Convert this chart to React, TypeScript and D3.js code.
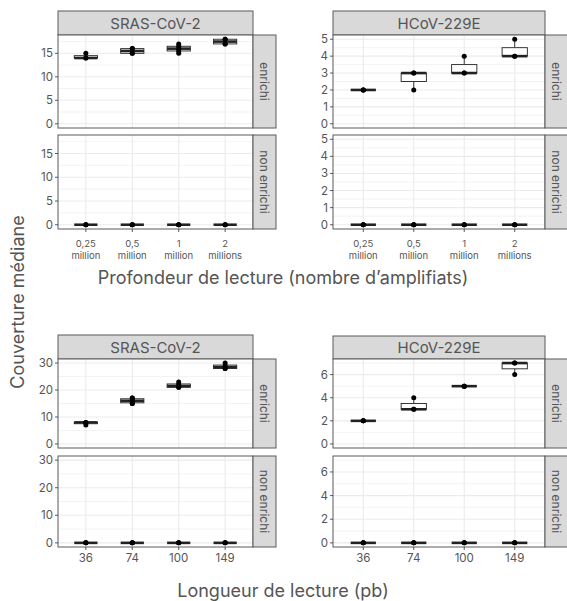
import React from 'react';
import * as d3 from 'd3';

// categories
const depthLabels = ['0,25 million', '0,5 million', '1 million', '2 millions'];
const lengthLabels = ['36', '74', '100', '149'];
const conditions = ['enrichi', 'non enrichi'];
const viruses = ['SRAS-CoV-2', 'HCoV-229E'];

// median coverage per replicate, one array per category
const sarsDepthEnrichi = [[14, 14, 15], [15, 15, 16, 16], [15, 15.5, 16, 16.5, 17], [17, 17, 18, 18]];
const sarsDepthNonEnrichi = [[0, 0, 0], [0, 0, 0], [0, 0, 0], [0, 0, 0]];
const hcovDepthEnrichi = [[2, 2, 2], [2, 3, 3], [3, 3, 4], [4, 4, 5]];
const hcovDepthNonEnrichi = [[0, 0, 0], [0, 0, 0], [0, 0, 0], [0, 0, 0]];

const sarsLengthEnrichi = [[7, 8, 8], [15, 15, 16, 16, 17, 17], [21, 21, 22, 23], [28, 28, 29, 30]];
const sarsLengthNonEnrichi = [[0, 0, 0], [0, 0, 0], [0, 0, 0], [0, 0, 0]];
const hcovLengthEnrichi = [[2, 2, 2], [3, 3, 4], [5, 5, 5], [6, 7, 7]];
const hcovLengthNonEnrichi = [[0, 0, 0], [0, 0, 0], [0, 0, 0], [0, 0, 0]];

// y tick labels
const sarsDepthTicks = [0, 5, 10, 15];
const hcovDepthTicks = [0, 1, 2, 3, 4, 5];
const sarsLengthTicks = [0, 10, 20, 30];
const hcovLengthTicks = [0, 2, 4, 6];

const FONT = 'Inter, "DejaVu Sans", sans-serif';
const BORDER = '#5a5a5a';
const STRIP_FILL = '#d9d9d9';
const GRID = '#ebebeb';
const TEXT = '#555';

function boxStats(vals: number[]) {
  const v = [...vals].sort(d3.ascending);
  const q1 = d3.quantile(v, 0.25) as number;
  const med = d3.quantile(v, 0.5) as number;
  const q3 = d3.quantile(v, 0.75) as number;
  const iqr = q3 - q1;
  const lo = d3.min(v.filter(d => d >= q1 - 1.5 * iqr)) as number;
  const hi = d3.max(v.filter(d => d <= q3 + 1.5 * iqr)) as number;
  return { q1, med, q3, lo, hi };
}

type PlotProps = {
  left: number;
  right: number;
  stripTop: number;
  panels: [number, number][];
  title: string;
  cats: string[];
  rows: number[][][];
  ticks: number[];
  labelY: number;
};

const FacetPlot = ({ left, right, stripTop, panels, title, cats, rows, ticks, labelY }: PlotProps) => {
  const stripW = 23;
  const all = rows.flat(2);
  const [mn, mx] = d3.extent(all) as [number, number];
  const pad = (mx - mn) * 0.05;
  const domain = [mn - pad, mx + pad];

  const x = d3.scalePoint<string>().domain(cats).range([left, right]).padding(0.6);
  const step = x.step();
  const boxW = step * 0.5;

  const tstep = ticks[1] - ticks[0];
  const minor = [ticks[0] - tstep / 2, ...ticks.map(t => t + tstep / 2)].filter(
    t => t >= domain[0] && t <= domain[1]
  );

  const bottom = panels[panels.length - 1][1];

  return (
    <g>
      {/* title strip */}
      <rect x={left} y={stripTop} width={right - left} height={panels[0][0] - stripTop}
        fill={STRIP_FILL} stroke={BORDER} strokeWidth={1} />
      <text x={(left + right) / 2} y={(stripTop + panels[0][0]) / 2} textAnchor="middle"
        dominantBaseline="central" fontSize={15} fill={TEXT} fontFamily={FONT}>{title}</text>

      {panels.map(([y0, y1], i) => {
        const y = d3.scaleLinear().domain(domain).range([y1, y0]);
        const data = rows[i];
        return (
          <g key={i}>
            <rect x={left} y={y0} width={right - left} height={y1 - y0} fill="#fff" />
            {minor.map(t => (
              <line key={'m' + t} x1={left} x2={right} y1={y(t)} y2={y(t)} stroke={GRID} strokeWidth={0.6} />
            ))}
            {ticks.map(t => (
              <line key={'t' + t} x1={left} x2={right} y1={y(t)} y2={y(t)} stroke={GRID} strokeWidth={1.1} />
            ))}
            {cats.map(c => (
              <line key={'v' + c} x1={x(c)} x2={x(c)} y1={y0} y2={y1} stroke={GRID} strokeWidth={1.1} />
            ))}
            {data.map((vals, j) => {
              const cx = x(cats[j]) as number;
              const s = boxStats(vals);
              return (
                <g key={j}>
                  <line x1={cx} x2={cx} y1={y(s.hi)} y2={y(s.q3)} stroke="#222" strokeWidth={0.9} />
                  <line x1={cx} x2={cx} y1={y(s.q1)} y2={y(s.lo)} stroke="#222" strokeWidth={0.9} />
                  <rect x={cx - boxW / 2} y={y(s.q3)} width={boxW} height={Math.max(0, y(s.q1) - y(s.q3))}
                    fill="#fff" stroke="#222" strokeWidth={0.9} />
                  <line x1={cx - boxW / 2} x2={cx + boxW / 2} y1={y(s.med)} y2={y(s.med)}
                    stroke="#222" strokeWidth={2.6} />
                  {vals.map((v, k) => (
                    <circle key={k} cx={cx} cy={y(v)} r={2.5} fill="#000" />
                  ))}
                </g>
              );
            })}
            <rect x={left} y={y0} width={right - left} height={y1 - y0} fill="none" stroke={BORDER} strokeWidth={1} />
            {/* right strip */}
            <rect x={right} y={y0} width={stripW} height={y1 - y0} fill={STRIP_FILL} stroke={BORDER} strokeWidth={1} />
            <text transform={`translate(${right + stripW / 2},${(y0 + y1) / 2}) rotate(90)`} textAnchor="middle"
              dominantBaseline="central" fontSize={12} fill={TEXT} fontFamily={FONT}>{conditions[i]}</text>
            {/* y axis */}
            {ticks.map(t => (
              <g key={'a' + t}>
                <line x1={left - 3} x2={left} y1={y(t)} y2={y(t)} stroke="#333" strokeWidth={0.8} />
                <text x={left - 5} y={y(t)} textAnchor="end" dominantBaseline="central" fontSize={11.5}
                  fill={TEXT} fontFamily={FONT}>{t}</text>
              </g>
            ))}
          </g>
        );
      })}

      {/* x axis */}
      {cats.map(c => {
        const parts = c.split(' ');
        const cx = x(c) as number;
        return (
          <g key={'x' + c}>
            <line x1={cx} x2={cx} y1={bottom} y2={bottom + 3} stroke="#333" strokeWidth={0.8} />
            {parts.length > 1 ? (
              parts.map((p, k) => (
                <text key={k} x={cx} y={labelY + k * 12.5} textAnchor="middle" dominantBaseline="central"
                  fontSize={9.5} fill={TEXT} fontFamily={FONT}>{p}</text>
              ))
            ) : (
              <text x={cx} y={labelY} textAnchor="middle" dominantBaseline="central" fontSize={11.5}
                fill={TEXT} fontFamily={FONT}>{c}</text>
            )}
          </g>
        );
      })}
    </g>
  );
};

const App = () => {
  const topPanels: [number, number][] = [[35, 128], [135, 229]];
  const botPanels: [number, number][] = [[359, 448], [456, 547]];
  return (
    <svg width={567} height={601} style={{ position: 'absolute', left: 0, top: 0, background: '#fff' }}>
      <rect width={567} height={601} fill="#fff" />
      <FacetPlot left={58} right={253} stripTop={11} panels={topPanels} title={viruses[0]} cats={depthLabels}
        rows={[sarsDepthEnrichi, sarsDepthNonEnrichi]} ticks={sarsDepthTicks} labelY={243} />
      <FacetPlot left={333} right={545} stripTop={11} panels={topPanels} title={viruses[1]} cats={depthLabels}
        rows={[hcovDepthEnrichi, hcovDepthNonEnrichi]} ticks={hcovDepthTicks} labelY={243} />
      <FacetPlot left={58} right={253} stripTop={335} panels={botPanels} title={viruses[0]} cats={lengthLabels}
        rows={[sarsLengthEnrichi, sarsLengthNonEnrichi]} ticks={sarsLengthTicks} labelY={558} />
      <FacetPlot left={333} right={545} stripTop={336} panels={botPanels} title={viruses[1]} cats={lengthLabels}
        rows={[hcovLengthEnrichi, hcovLengthNonEnrichi]} ticks={hcovLengthTicks} labelY={558} />

      <text x={283} y={277} textAnchor="middle" dominantBaseline="central" fontSize={18} fill={TEXT}
        fontFamily={FONT}>Profondeur de lecture (nombre d’amplifiats)</text>
      <text x={283} y={590} textAnchor="middle" dominantBaseline="central" fontSize={18} fill={TEXT}
        fontFamily={FONT}>Longueur de lecture (pb)</text>
      <text transform="translate(17,302) rotate(-90)" textAnchor="middle" dominantBaseline="central"
        fontSize={18} fill={TEXT} fontFamily={FONT}>Couverture médiane</text>
    </svg>
  );
};

export default App;
